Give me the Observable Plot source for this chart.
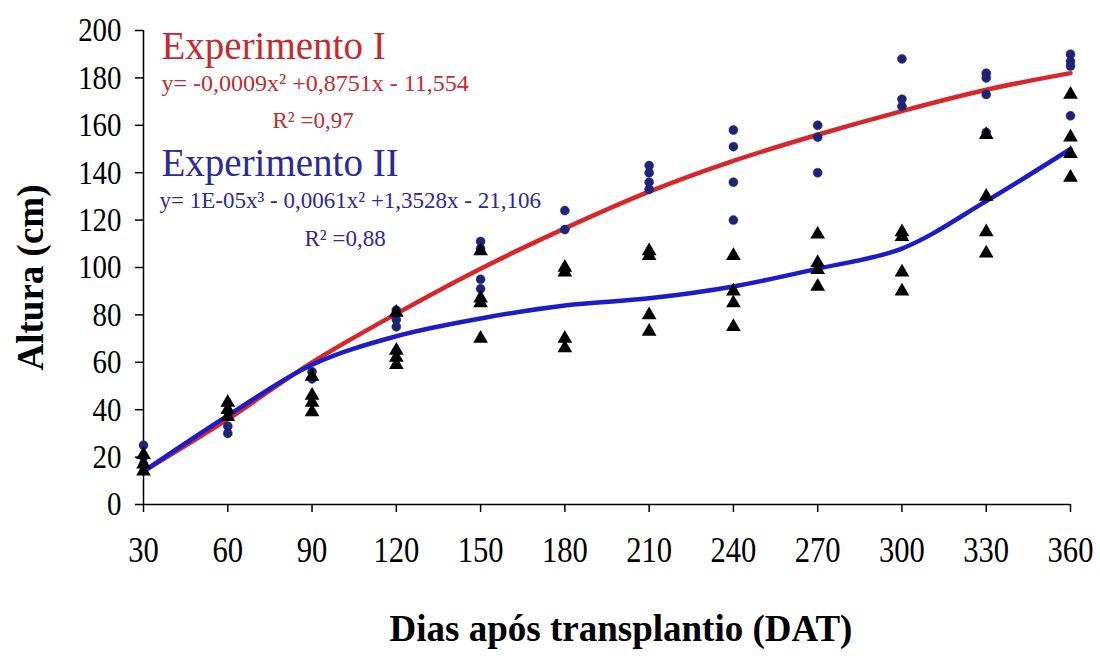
<!DOCTYPE html>
<html>
<head>
<meta charset="utf-8">
<script src="https://cdn.jsdelivr.net/npm/d3@7"></script>
<script src="https://cdn.jsdelivr.net/npm/@observablehq/plot@0.6"></script>
<style>
  html, body { margin: 0; padding: 0; background: #fff; }
  #chart svg { display: block; }
</style>
</head>
<body>
<div id="chart"></div>
<script>
// ---- Data ----
const days = [30, 60, 90, 120, 150, 180, 210, 240, 270, 300, 330, 360];

// Experimento I observed heights (circles), one list per day
const exp1Obs = [
  [25, 20, 17],
  [33, 30],
  [56, 53],
  [82, 78, 75],
  [111, 108, 95, 91],
  [124, 116],
  [143, 140, 136, 133],
  [158, 151, 136, 120],
  [160, 155, 140],
  [188, 171, 168],
  [182, 180, 173, 157],
  [190, 187, 185, 164]
];

// Experimento II observed heights (triangles), one list per day
const exp2Obs = [
  [21, 17, 14],
  [43, 40, 37],
  [54, 46, 43, 39],
  [81, 65, 62, 59],
  [107, 87, 85, 70],
  [100, 98, 70, 66],
  [107, 105, 80, 73],
  [105, 90, 85, 75],
  [114, 102, 99, 92],
  [115, 113, 98, 90],
  [156, 130, 115, 106],
  [173, 155, 148, 138]
];

// Fitted curves
const fit1 = [14, 36, 60, 80.5, 99.5, 116.5, 132, 145, 156, 166, 175, 182];
const fit2 = [14, 37.5, 59, 71, 78.5, 84, 87, 92, 99.5, 108, 128, 150];

const yTicks = [0, 20, 40, 60, 80, 100, 120, 140, 160, 180, 200];

const labels1 = ["Experimento I", "y= -0,0009x\u00B2 +0,8751x - 11,554", "R\u00B2 =0,97"];
const labels2 = ["Experimento II", "y= 1E-05x\u00B3 - 0,0061x\u00B2 +1,3528x - 21,106", "R\u00B2 =0,88"];
const xTitle = "Dias após transplantio (DAT)";
const yTitle = "Altura (cm)";

// ---- Build tables ----
const pts1 = days.flatMap((d, i) => exp1Obs[i].map(v => ({day: d, h: v})));
const pts2 = days.flatMap((d, i) => exp2Obs[i].map(v => ({day: d, h: v})));
const line1 = days.map((d, i) => ({day: d, h: fit1[i]}));
const line2 = days.map((d, i) => ({day: d, h: fit2[i]}));

const RED = "#d9262b";
const RED_TXT = "#c42a2f";
const BLUE = "#1c1cc9";
const BLUE_TXT = "#2a2a98";
const NAVY = "#1d2377";
const FONT = "'Liberation Serif', 'Times New Roman', serif";

const chart = Plot.plot({
  width: 1100,
  height: 658,
  marginLeft: 143,
  marginRight: 30,
  marginTop: 30,
  marginBottom: 154,
  style: {fontFamily: FONT, background: "#fff", color: "#000"},
  x: {domain: [30, 360]},
  y: {domain: [0, 200]},
  marks: [
    Plot.axisX(days, {tickSize: 8, tickPadding: 24, fontSize: 36, label: null, stroke: "#000", strokeWidth: 1.5}),
    Plot.axisY(yTicks, {tickSize: 8, tickPadding: 14, fontSize: 34, label: null, stroke: "#000", strokeWidth: 1.5}),
    Plot.ruleY([0], {stroke: "#000", strokeWidth: 1.5}),
    Plot.ruleX([30], {y1: 0, y2: 200, stroke: "#000", strokeWidth: 1.5}),
    Plot.line(line1, {x: "day", y: "h", stroke: RED, strokeWidth: 4.5, curve: "catmull-rom"}),
    Plot.line(line2, {x: "day", y: "h", stroke: BLUE, strokeWidth: 4.5, curve: "catmull-rom"}),
    Plot.dot(pts1, {x: "day", y: "h", r: 4.5, fill: NAVY, stroke: NAVY, strokeWidth: 0.5}),
    Plot.dot(pts2, {x: "day", y: "h", r: 4.5, symbol: "triangle", fill: "#000", stroke: "#000"}),
    // annotations
    Plot.text([labels1[0]], {frameAnchor: "top-left", dx: 18, dy: 16, textAnchor: "start", lineAnchor: "middle", fontSize: 39, fill: RED_TXT}),
    Plot.text([labels1[1]], {frameAnchor: "top-left", dx: 18, dy: 53, textAnchor: "start", lineAnchor: "middle", fontSize: 24, fill: RED_TXT}),
    Plot.text([labels1[2]], {frameAnchor: "top-left", dx: 129, dy: 90, textAnchor: "start", lineAnchor: "middle", fontSize: 23, fill: RED_TXT}),
    Plot.text([labels2[0]], {frameAnchor: "top-left", dx: 18, dy: 133, textAnchor: "start", lineAnchor: "middle", fontSize: 39, fill: BLUE_TXT}),
    Plot.text([labels2[1]], {frameAnchor: "top-left", dx: 16, dy: 170, textAnchor: "start", lineAnchor: "middle", fontSize: 23, fill: BLUE_TXT}),
    Plot.text([labels2[2]], {frameAnchor: "top-left", dx: 161, dy: 208, textAnchor: "start", lineAnchor: "middle", fontSize: 23, fill: BLUE_TXT}),
    // axis titles
    Plot.text([yTitle], {frameAnchor: "left", dx: -112, dy: 10, rotate: -90, textAnchor: "middle", lineAnchor: "middle", fontSize: 37, fontWeight: "bold", fill: "#000"}),
    Plot.text([xTitle], {frameAnchor: "bottom", dx: 14, dy: 136, textAnchor: "middle", fontSize: 37, fontWeight: "bold", fill: "#000"})
  ]
});

document.getElementById("chart").appendChild(chart);

// condense tick labels horizontally like the reference
chart.querySelectorAll('g[aria-label="x-axis tick label"] text, g[aria-label="y-axis tick label"] text').forEach(t => {
  t.setAttribute("transform", (t.getAttribute("transform") || "") + " scale(0.85,1)");
});
</script>
</body>
</html>
